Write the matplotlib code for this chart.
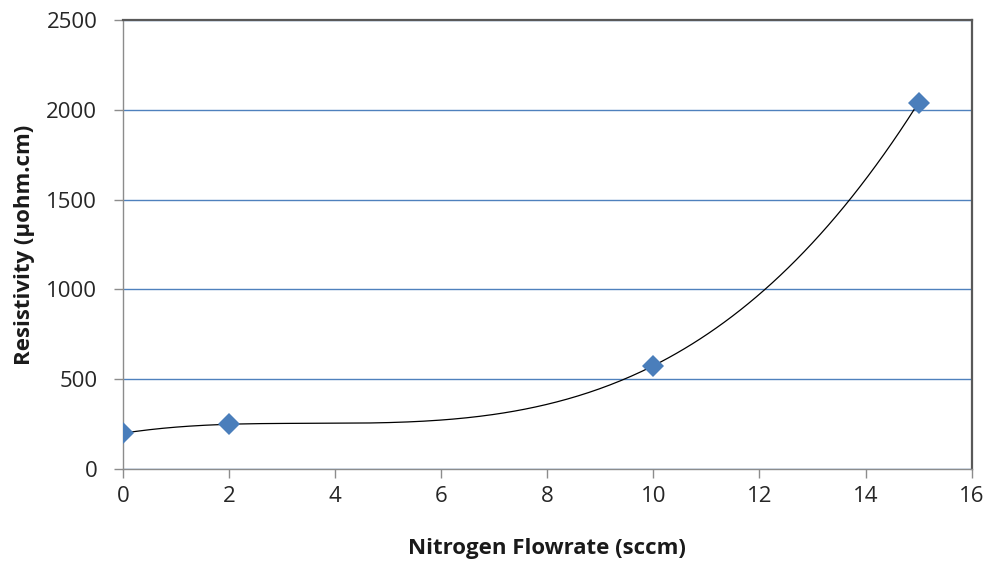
import numpy as np
import matplotlib
matplotlib.use("Agg")
import matplotlib.pyplot as plt

# Resistivity vs nitrogen flow
flowrate = [0, 2, 10, 15]
resistivity = [198, 248, 574, 2040]

x_ticks = [0, 2, 4, 6, 8, 10, 12, 14, 16]
y_ticks = [0, 500, 1000, 1500, 2000, 2500]

plt.rcParams['font.family'] = ['Open Sans', 'DejaVu Sans']

fig = plt.figure(figsize=(9.9, 5.67), dpi=100)
ax = fig.add_axes([0.1242, 0.1732, 0.8572, 0.7915])

# horizontal gridlines in Excel blue
ax.set_axisbelow(True)
ax.yaxis.grid(True, color='#4F81BD', linewidth=1.0)

# 3rd order polynomial trendline through the points
coef = np.polyfit(flowrate, resistivity, 3)
xs = np.linspace(min(flowrate), max(flowrate), 300)
ax.plot(xs, np.polyval(coef, xs), color='black', linewidth=0.9, zorder=2)

ax.plot(flowrate, resistivity, linestyle='none', marker='D', markersize=11.5,
        color='#4A7EBB', markeredgewidth=0, zorder=3)

ax.set_xlim(0, 16)
ax.set_ylim(0, 2500)
ax.set_xticks(x_ticks)
ax.set_yticks(y_ticks)

for side in ['left', 'bottom']:
    ax.spines[side].set_color('#8C8C8C')
    ax.spines[side].set_linewidth(1.0)
for side in ['top', 'right']:
    ax.spines[side].set_color('#595959')
    ax.spines[side].set_linewidth(1.6)

ax.tick_params(axis='both', direction='out', length=6.5, width=1.0,
               color='#8C8C8C', labelsize=16, labelcolor='#262626')
ax.tick_params(axis='y', pad=12)
ax.tick_params(axis='x', pad=6)

ax.set_xlabel('Nitrogen Flowrate (sccm)', fontsize=16, fontweight='bold',
              color='#1A1A1A', labelpad=22)
ax.set_ylabel('Resistivity (µohm.cm)', fontsize=16, fontweight='bold',
              color='#1A1A1A', labelpad=8)

fig.savefig('out.png', dpi=100)
